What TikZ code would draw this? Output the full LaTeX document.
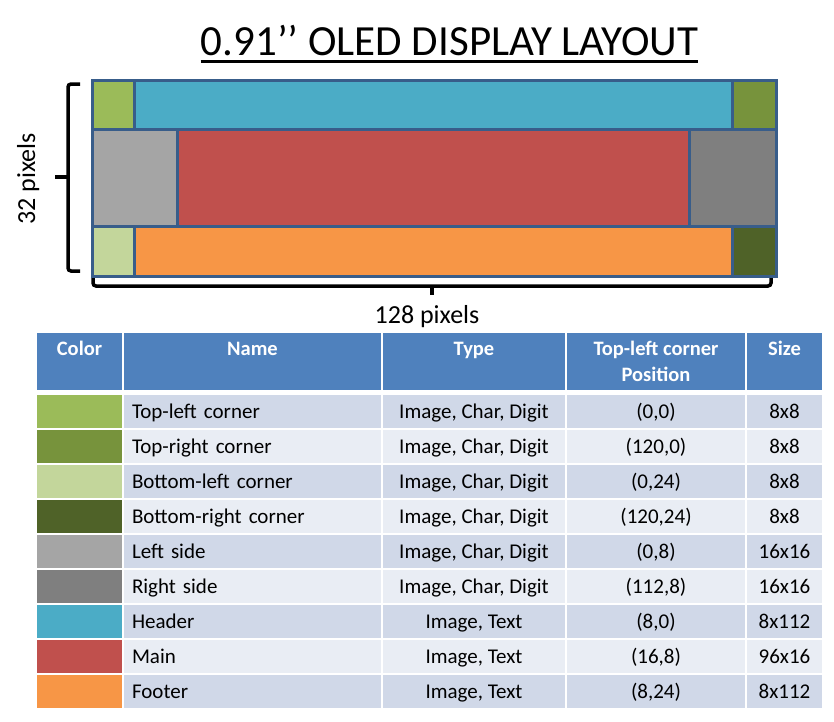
\documentclass[tikz,border=0pt]{standalone}
\usepackage{fontspec}
\setmainfont{Carlito}
\usepackage{tikz}
\usetikzlibrary{calc}
\definecolor{bordblue}{HTML}{385D8A}
\definecolor{hdrblue}{HTML}{4F81BD}
\definecolor{rowdark}{HTML}{D0D8E8}
\definecolor{rowlight}{HTML}{E9EDF4}
\definecolor{tlgreen}{HTML}{9BBB59}
\definecolor{trgreen}{HTML}{77933C}
\definecolor{blgreen}{HTML}{C3D69B}
\definecolor{brgreen}{HTML}{4F6228}
\definecolor{lsgrey}{HTML}{A5A5A5}
\definecolor{rsgrey}{HTML}{7F7F7F}
\definecolor{hdcyan}{HTML}{4BACC6}
\definecolor{mnred}{HTML}{C0504D}
\definecolor{ftorange}{HTML}{F79646}
\tikzset{
  zone/.style  = {draw=bordblue, line width=3pt},
  brk/.style   = {line width=3.5pt, rounded corners=3pt},
  cell/.style  = {draw=white, line width=2pt, anchor=north west, inner sep=0pt,
                  minimum height=35pt, text height=17pt, text depth=4pt,
                  font=\fontsize{21}{26}\selectfont},
  hcell/.style = {draw=white, line width=2pt, anchor=north west, inner sep=0pt,
                  minimum height=59pt, align=center, fill=hdrblue, text=white,
                  font=\fontsize{20.5}{26}\selectfont\bfseries},
  lbl/.style   = {font=\fontsize{26}{30}\selectfont, inner sep=0pt},
  ttl/.style   = {font=\fontsize{43}{50}\selectfont, inner sep=0pt},
}

\begin{document}
\begin{tikzpicture}[x=1pt, y=-1pt]
    \useasboundingbox (0,0) rectangle (834,721);

    % title
    \node[ttl, anchor=base] (title) at (449.5,55) {0.91’’ OLED DISPLAY LAYOUT};
    \draw[line width=3pt] ($(title.base west)+(0,6)$) -- ($(title.base east)+(0,6)$);

    % display zones
    \draw[zone, fill=tlgreen]  (92,80)   rectangle (134,129);
    \draw[zone, fill=hdcyan]   (134,80)  rectangle (732,129);
    \draw[zone, fill=trgreen]  (732,80)  rectangle (776,129);
    \draw[zone, fill=lsgrey]   (92,129)  rectangle (177,226);
    \draw[zone, fill=mnred]    (177,129) rectangle (689,226);
    \draw[zone, fill=rsgrey]   (689,129) rectangle (776,226);
    \draw[zone, fill=blgreen]  (92,226)  rectangle (134,276);
    \draw[zone, fill=ftorange] (134,226) rectangle (732,276);
    \draw[zone, fill=brgreen]  (732,226) rectangle (776,276);

    % braces
    \draw[brk] (80,84) -- (68,84) -- (68,271) -- (80,271);
    \draw[brk] (68,177) -- (55,177);
    \draw[brk] (93,278) -- (93,286) -- (771,286) -- (771,278);
    \draw[brk] (432,286) -- (432,295);
    \node[lbl, rotate=90, anchor=base] (hpx) at (35,179) {32 pixels};
    \node[lbl, anchor=base] (wpx) at (427,323) {128 pixels};

    % table header
    \node[hcell, minimum width=87pt]  (hcol)  at (35,331)  {Color\\\mbox{}};
    \node[hcell, minimum width=259pt] (hname) at (122,331) {Name\\\mbox{}};
    \node[hcell, minimum width=184pt] (htype) at (381,331) {Type\\\mbox{}};
    \node[hcell, minimum width=180pt] (hpos)  at (565,331) {Top-left corner\\Position};
    \node[hcell, minimum width=77pt]  (hsize) at (745,331) {Size\\\mbox{}};

    % table rows
    \foreach \i/\sw/\bg/\nm/\ty/\ps/\sz in {
      1/tlgreen/rowdark/Top-left corner/{Image, Char, Digit}/{(0,0)}/8x8,
      2/trgreen/rowlight/Top-right corner/{Image, Char, Digit}/{(120,0)}/8x8,
      3/blgreen/rowdark/Bottom-left corner/{Image, Char, Digit}/{(0,24)}/8x8,
      4/brgreen/rowlight/Bottom-right corner/{Image, Char, Digit}/{(120,24)}/8x8,
      5/lsgrey/rowdark/Left side/{Image, Char, Digit}/{(0,8)}/16x16,
      6/rsgrey/rowlight/Right side/{Image, Char, Digit}/{(112,8)}/16x16,
      7/hdcyan/rowdark/Header/{Image, Text}/{(8,0)}/8x112,
      8/mnred/rowlight/Main/{Image, Text}/{(16,8)}/96x16,
      9/ftorange/rowdark/Footer/{Image, Text}/{(8,24)}/8x112}{
      \node[cell, fill=\sw, minimum width=87pt] (sw\i) at (35,393+35*\i-35) {};
      \node[cell, fill=\bg, minimum width=259pt, text width=241pt, inner xsep=9pt,
            align=left] (nm\i) at (122,393+35*\i-35) {\nm};
      \node[cell, fill=\bg, minimum width=184pt] (ty\i) at (381,393+35*\i-35) {\ty};
      \node[cell, fill=\bg, minimum width=180pt] (ps\i) at (565,393+35*\i-35) {\ps};
      \node[cell, fill=\bg, minimum width=77pt]  (sz\i) at (745,393+35*\i-35) {\sz};
    }
  \end{tikzpicture}
\end{document}
